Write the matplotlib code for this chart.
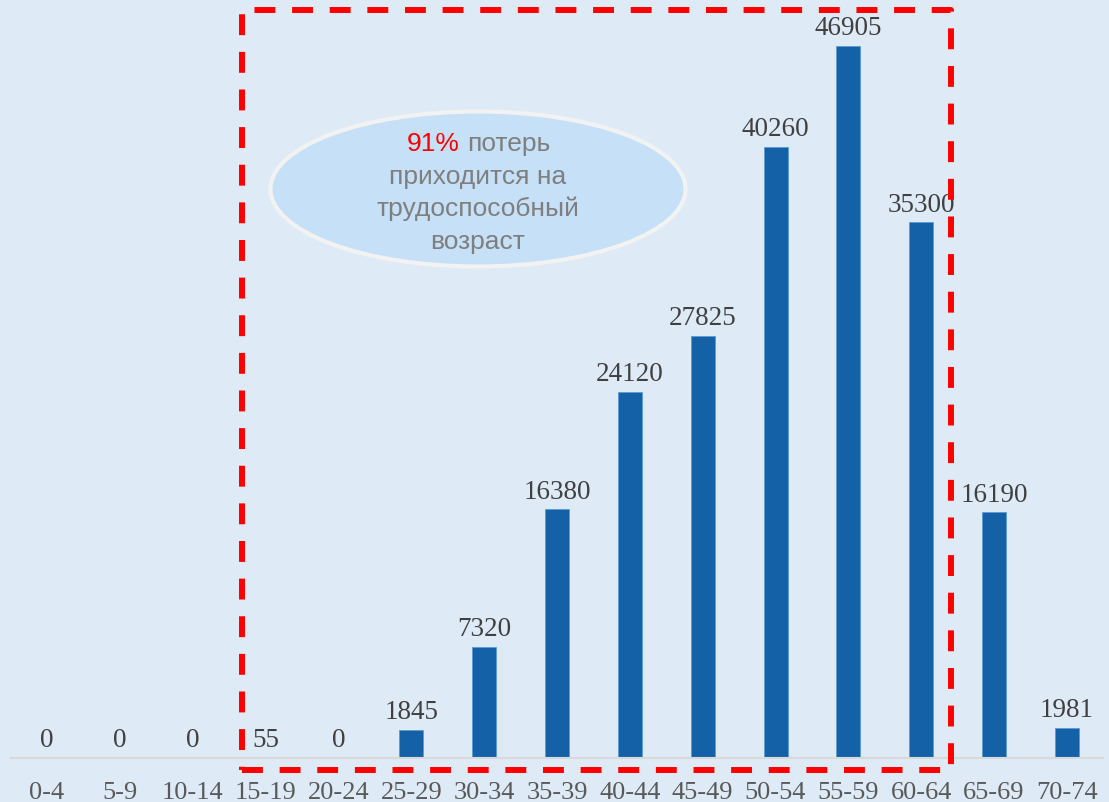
import matplotlib.pyplot as plt
from matplotlib.patches import Ellipse, Rectangle

# возрастные группы и потери
groups = ['0-4', '5-9', '10-14', '15-19', '20-24', '25-29', '30-34', '35-39',
          '40-44', '45-49', '50-54', '55-59', '60-64', '65-69', '70-74']
values = [0, 0, 0, 55, 0, 1845, 7320, 16380, 24120, 27825, 40260, 46905, 35300, 16190, 1981]

bg = '#DEEBF7'
W, H = 1109, 803

fig = plt.figure(figsize=(W / 100, H / 100), dpi=100, facecolor=bg)
ax = fig.add_axes([10.6 / W, (H - 759) / H, (1103.4 - 10.6) / W, 759 / H])
ax.set_facecolor(bg)

x = range(len(groups))
bars = ax.bar(x, values, width=0.33, color='#1461A8', edgecolor='#5B9BD5', linewidth=0.6, zorder=2)

for xi, v in zip(x, values):
    ax.annotate(str(v), (xi, v), xytext=(0, 4), textcoords='offset points',
                ha='center', va='bottom', fontsize=19.5, color='#404040',
                family='Liberation Serif')

ax.set_xlim(-0.5, len(groups) - 0.5)
ax.set_ylim(0, 50000)
ax.set_xticks(list(x))
ax.set_xticklabels(groups, fontsize=19, color='#595959', family='Liberation Serif')
ax.tick_params(axis='x', length=0, pad=16.5)
ax.set_yticks([])
for s in ['top', 'right', 'left']:
    ax.spines[s].set_visible(False)
ax.spines['bottom'].set_color('#D9D9D9')
ax.spines['bottom'].set_linewidth(1.5)

# красная пунктирная рамка
x0, y0, x1, y1 = 242, 11, 951, 771
rect = Rectangle((x0 / W, 1 - y1 / H), (x1 - x0) / W, (y1 - y0) / H,
                 transform=fig.transFigure, fill=False, edgecolor='#FF0000',
                 linewidth=4.3, linestyle=(0, (3.5, 2.8)), joinstyle='round', zorder=5)
fig.patches.append(rect)

# эллипс с подписью
ell = Ellipse((478 / W, 1 - 190 / H), 415 / W, 155 / H, transform=fig.transFigure,
              facecolor='#C5E0F7', edgecolor='#F2F2F2', linewidth=3, zorder=4)
fig.patches.append(ell)

tx, ty = 478 / W, 1 - 193 / H
lh = 32.5 / H
fs = 19
fig.text(460 / W, ty + 1.5 * lh, '91%', color='#FF0000', fontsize=fs,
         family='Liberation Sans', ha='right', va='center', zorder=6)
fig.text(467 / W, ty + 1.5 * lh, 'потерь', color='#7F7F7F', fontsize=fs,
         family='Liberation Sans', ha='left', va='center', zorder=6)
for i, line in enumerate(['приходится на', 'трудоспособный', 'возраст']):
    fig.text(tx, ty + (0.5 - i) * lh, line, color='#7F7F7F', fontsize=fs,
             family='Liberation Sans', ha='center', va='center', zorder=6)

fig.savefig('out.png', dpi=100, facecolor=bg)
